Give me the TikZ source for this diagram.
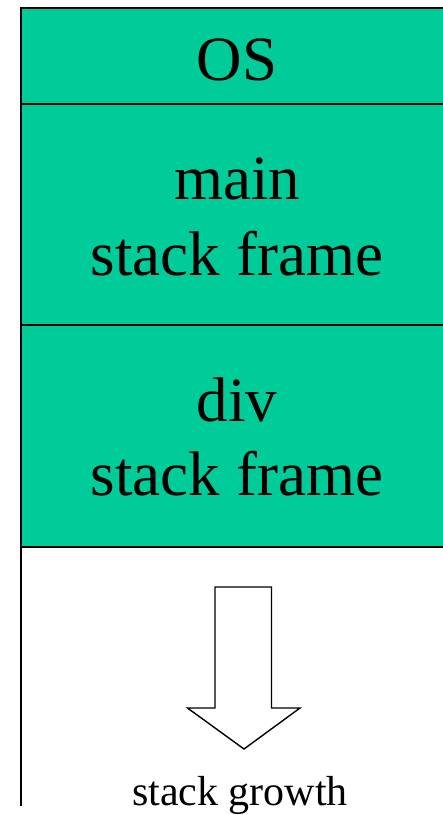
\documentclass[tikz,border=0pt]{standalone}
\usepackage{fontspec}
\setmainfont{Liberation Serif}
\definecolor{framegreen}{RGB}{0,204,153}
\begin{document}
\begin{tikzpicture}[x=1pt,y=-1pt,
  framebox/.style={draw=black, line width=2pt, fill=framegreen},
  bigtext/.style={anchor=base, inner sep=0pt, font=\fontsize{63}{76}\selectfont},
  smalltext/.style={anchor=base, inner sep=0pt, font=\fontsize{42}{50}\selectfont}]
\useasboundingbox (0,0) rectangle (443,815);
\clip (0,0) rectangle (443,815);
% frames
\draw[framebox] (20.5,8) rectangle (460,103.5);
\draw[framebox] (20.5,103.5) rectangle (460,325);
\draw[framebox] (20.5,325) rectangle (460,547);
\coordinate (ltop) at (20.5,8);
\coordinate (lbot) at (20.5,806);
\draw[line width=2pt] (ltop) -- (lbot);
% texts
\node[bigtext] (os) at (237,80) {OS};
\node[bigtext] (mainname) at (237,199) {main};
\node[bigtext] (mainsf) at (237,275) {stack frame};
\node[bigtext] (divname) at (237,421.5) {div};
\node[bigtext] (divsf) at (237,495) {stack frame};
% growth arrow
\draw[line width=1.4pt, line join=miter, fill=white]
  (215,587) -- (271.5,587) -- (271.5,708) -- (300,708) -- (244,749)
  -- (187.5,708) -- (215,708) -- cycle;
\node[smalltext] (growth) at (240,805) {stack growth};
\end{tikzpicture}
\end{document}
